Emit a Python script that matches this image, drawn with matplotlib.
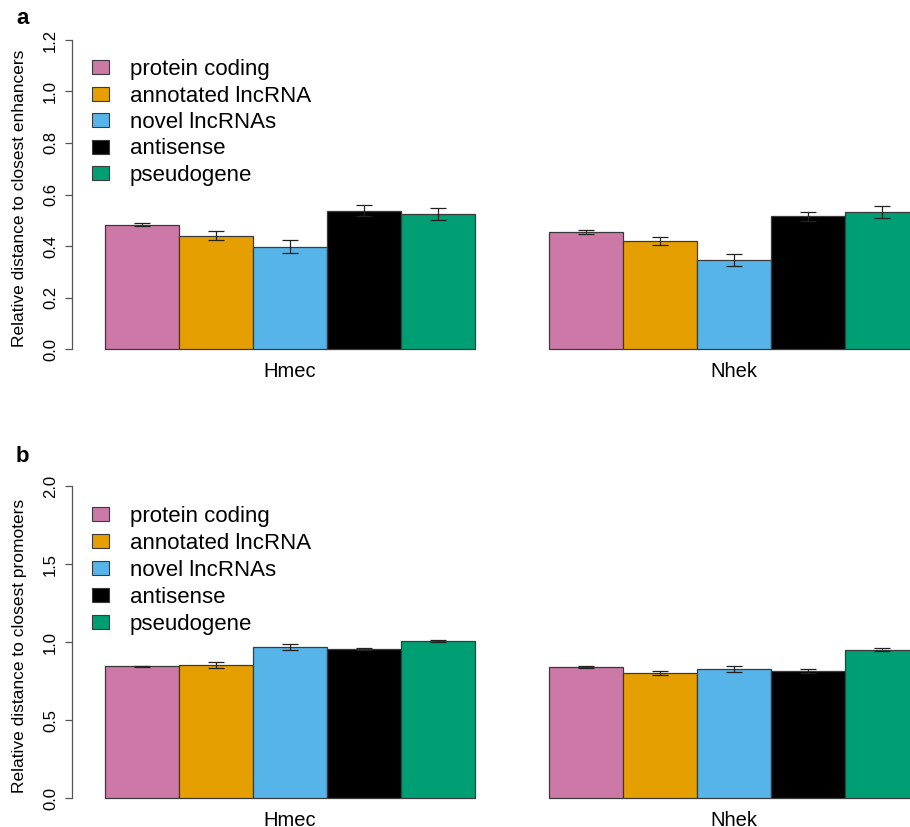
import matplotlib
matplotlib.use("Agg")
import matplotlib.pyplot as plt
from matplotlib.patches import Rectangle
import numpy as np

plt.rcParams["font.family"] = ["Liberation Sans", "DejaVu Sans"]

cell_lines = ["Hmec", "Nhek"]
gene_types = ["protein coding", "annotated lncRNA", "novel lncRNAs", "antisense", "pseudogene"]
colors = ["#CC79A7", "#E69F00", "#56B4E9", "#000000", "#009E73"]

# panel a: relative distance to closest enhancers
enh_mean = [[0.482, 0.440, 0.397, 0.537, 0.523],
            [0.456, 0.419, 0.346, 0.515, 0.532]]
enh_err = [[0.006, 0.018, 0.025, 0.022, 0.023],
           [0.008, 0.017, 0.023, 0.018, 0.025]]

# panel b: relative distance to closest promoters
pro_mean = [[0.846, 0.853, 0.970, 0.955, 1.008],
            [0.840, 0.803, 0.829, 0.818, 0.953]]
pro_err = [[0.004, 0.018, 0.018, 0.006, 0.006],
           [0.006, 0.012, 0.018, 0.012, 0.008]]

W, H = 910, 827
EDGE = "#3a3a3a"


def legend(fig, y_first, step):
    # drawn by hand so the row spacing follows the R legend
    for i, (lab, c) in enumerate(zip(gene_types, colors)):
        y = y_first + i * step
        fig.add_artist(Rectangle((92 / W, 1 - (y + 7) / H), 17 / W, 14 / H,
                                 transform=fig.transFigure, facecolor=c,
                                 edgecolor=EDGE, linewidth=0.8))
        fig.text(130 / W, 1 - y / H, lab, fontsize=16, va="center_baseline")


def panel(fig, rect, means, errs, ymax, yticks, ylabel):
    ax = fig.add_axes(rect)
    # R barplot layout: bars of width 1, one unit of space before each group
    for g, (m, e) in enumerate(zip(means, errs)):
        x0 = 1 + g * 6
        xs = x0 + np.arange(len(m)) + 0.5
        ax.bar(xs, m, width=1.0, color=colors, edgecolor=EDGE, linewidth=0.9)
        ax.errorbar(xs, m, yerr=e, fmt="none", ecolor="#222222",
                    elinewidth=0.9, capsize=5.5, capthick=0.9)
    ax.set_xlim(0.56, 0.56 + (W - 72) / 74)
    pad = 0.04 * ymax
    ax.set_ylim(-pad, ymax + pad)
    ax.set_yticks(yticks)
    ax.set_yticklabels([f"{t:.1f}" for t in yticks], rotation=90, va="center", fontsize=12)
    ax.set_xticks([3.5, 9.5])
    ax.set_xticklabels(cell_lines, fontsize=14.5)
    ax.tick_params(axis="x", length=0, pad=0.5)
    ax.tick_params(axis="y", length=5, width=0.9, color="#555555", pad=5)
    for s in ["top", "right", "bottom"]:
        ax.spines[s].set_visible(False)
    ax.spines["left"].set_bounds(yticks[0], yticks[-1])
    ax.spines["left"].set_color("#555555")
    ax.spines["left"].set_linewidth(0.9)
    ax.set_ylabel(ylabel, fontsize=12.5)
    ax.yaxis.set_label_coords(-45 / (W - 72), 0.49)
    return ax


fig = plt.figure(figsize=(W / 100, H / 100), dpi=100)

# pixel geometry -> figure fractions
a_bot, a_top = 361.4, 27.6
b_bot, b_top = 810.8, 473.8
left = 72 / W

panel(fig, [left, 1 - a_bot / H, 1 - left, (a_bot - a_top) / H],
      enh_mean, enh_err, 1.2, [0.0, 0.2, 0.4, 0.6, 0.8, 1.0, 1.2],
      "Relative distance to closest enhancers")
panel(fig, [left, 1 - b_bot / H, 1 - left, (b_bot - b_top) / H],
      pro_mean, pro_err, 2.0, [0.0, 0.5, 1.0, 1.5, 2.0],
      "Relative distance to closest promoters")

legend(fig, 67, 26.5)
legend(fig, 514, 27)

fig.text(23 / W, 1 - 18 / H, "a", fontsize=16, fontweight="bold", ha="center", va="center")
fig.text(22 / W, 1 - 456 / H, "b", fontsize=16, fontweight="bold", ha="center", va="center")

fig.savefig("out.png", dpi=100)
